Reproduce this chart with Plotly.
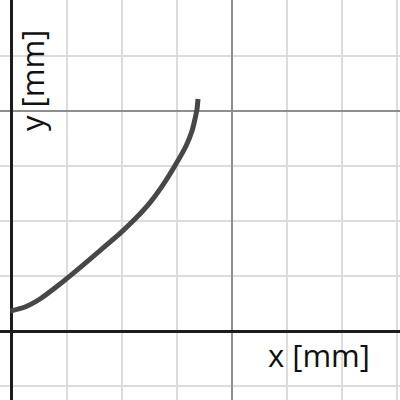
import plotly.graph_objects as go

# curve data (grid units: one minor grid cell = 1)
curve_x = [-0.02, 0.245, 0.517, 0.880, 1.243, 1.606, 1.969, 2.241, 2.514, 2.731,
           2.985, 3.167, 3.276, 3.330, 3.367, 3.385]
curve_y = [0.363, 0.436, 0.581, 0.853, 1.151, 1.459, 1.771, 2.031, 2.330, 2.624,
           3.031, 3.358, 3.630, 3.848, 4.029, 4.211]

x_label = "x [mm]"
y_label = "y [mm]"

x_range = [-0.2087, 7.0508]
y_range = [-1.2523, 6.0073]

fig = go.Figure()
fig.add_trace(go.Scatter(
    x=curve_x, y=curve_y, mode="lines",
    line=dict(color="#474747", width=5, shape="spline", smoothing=0.7),
    hoverinfo="skip", showlegend=False,
))

axis_common = dict(
    dtick=4, tick0=0,
    showgrid=True, gridcolor="#8e8e8e", gridwidth=1.5,
    minor=dict(dtick=1, tick0=0, showgrid=True, gridcolor="#dcdcdc", gridwidth=1.5),
    zeroline=True, zerolinecolor="#1c1c1c", zerolinewidth=3,
    showticklabels=False, ticks="", showline=False,
    fixedrange=True,
)

fig.update_layout(
    width=400, height=400,
    margin=dict(l=0, r=0, t=0, b=0),
    paper_bgcolor="white", plot_bgcolor="white",
    xaxis=dict(range=x_range, **axis_common),
    yaxis=dict(range=y_range, **axis_common),
    font=dict(family="Open Sans", color="#111111"),
    annotations=[
        dict(text=x_label, xref="paper", yref="paper", x=0.93, y=0.1125,
             xanchor="right", yanchor="middle", showarrow=False,
             font=dict(size=31, family="Open Sans", color="#111111")),
        dict(text=y_label, xref="paper", yref="paper", x=0.08, y=0.7975,
             xanchor="center", yanchor="middle", showarrow=False, textangle=-90,
             font=dict(size=31, family="Open Sans", color="#111111")),
    ],
)

fig.write_html("out.html", config={"displayModeBar": False},
               post_script="document.body.style.margin='0';document.body.style.overflow='hidden';")
